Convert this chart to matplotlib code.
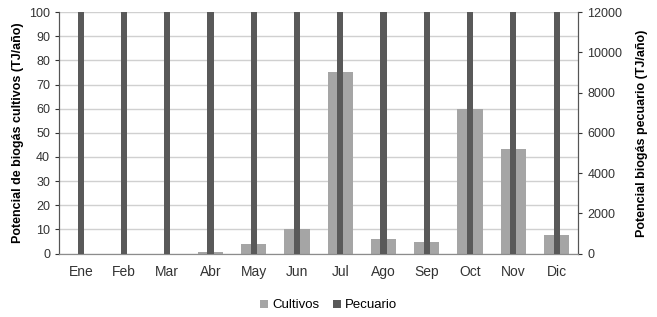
import numpy as np
import matplotlib.pyplot as plt

plt.rcParams['font.family'] = ['Liberation Sans', 'DejaVu Sans']

meses = ['Ene', 'Feb', 'Mar', 'Abr', 'May', 'Jun', 'Jul', 'Ago', 'Sep', 'Oct', 'Nov', 'Dic']
cultivos = [0, 0, 0, 0.8, 4, 10, 75, 6, 5, 60, 43.5, 7.5]
pecuario = [13000] * 12  # above the 12000 axis top, clipped in the original

x = np.arange(len(meses))

fig, ax = plt.subplots(figsize=(6.57, 3.17), dpi=100)
fig.subplots_adjust(left=0.09, right=0.88, top=0.962, bottom=0.2)

ax.bar(x, cultivos, width=0.58, color='#a5a5a5', zorder=2, label='Cultivos')
ax.set_ylim(0, 100)
ax.set_yticks(range(0, 101, 10))
ax.set_xlim(-0.5, 11.5)
ax.set_xticks(x)
ax.set_xticklabels(meses)
ax.yaxis.grid(True, color='#d0d0d0', lw=1, zorder=0)
ax.set_axisbelow(True)
ax.set_ylabel('Potencial de biogás cultivos (TJ/año)', fontweight='bold', fontsize=9)

ax2 = ax.twinx()
ax2.bar(x, pecuario, width=0.14, color='#595959', zorder=3, label='Pecuario')
ax2.set_ylim(0, 12000)
ax2.set_yticks(range(0, 12001, 2000))
ax2.set_ylabel('Potencial biogás pecuario (TJ/año)', fontweight='bold', fontsize=9,
               labelpad=10)

for a in (ax, ax2):
    a.tick_params(labelsize=9, colors='#333333', length=3)
    for s in a.spines.values():
        s.set_color('#555555')
    a.spines['top'].set_visible(False)
    a.spines['bottom'].set_color('#8c8c8c')
ax.tick_params(axis='x', length=0, pad=8, labelsize=10)

h1, l1 = ax.get_legend_handles_labels()
h2, l2 = ax2.get_legend_handles_labels()
fig.legend(h1 + h2, l1 + l2, loc='lower center', ncol=2, frameon=False,
           fontsize=9.5, handlelength=0.6, handleheight=0.6, handletextpad=0.3,
           columnspacing=1.0, bbox_to_anchor=(0.5, -0.02))

plt.savefig('out.png')
